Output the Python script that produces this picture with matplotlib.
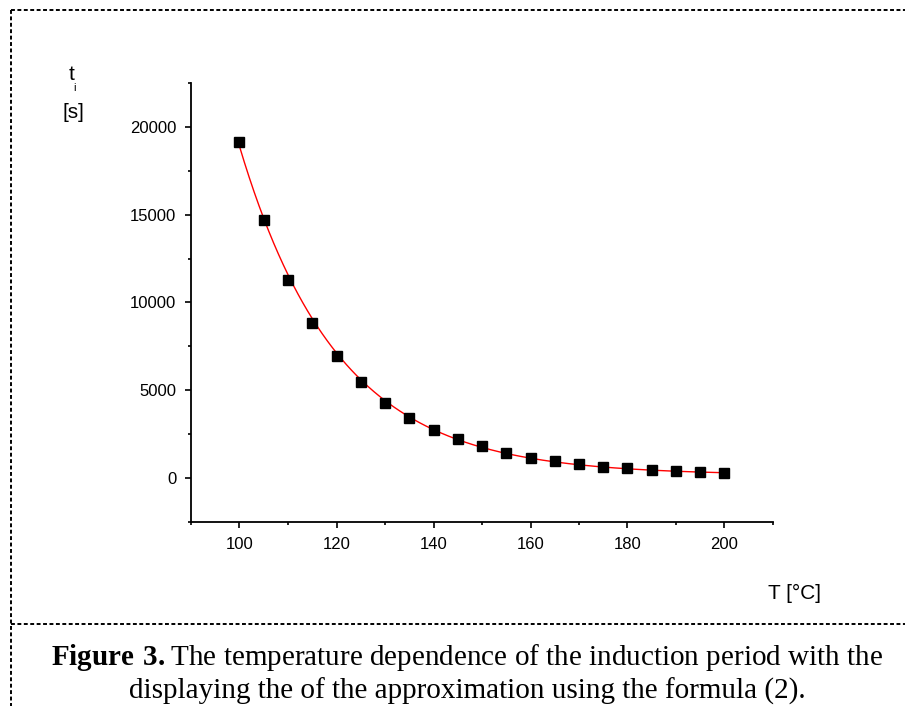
import numpy as np
import matplotlib
matplotlib.use("Agg")
import matplotlib.pyplot as plt
from matplotlib.ticker import MultipleLocator
from matplotlib.lines import Line2D

plt.rcParams["mathtext.fontset"] = "custom"
plt.rcParams["mathtext.rm"] = "Liberation Serif"
plt.rcParams["mathtext.bf"] = "Liberation Serif:bold"

# induction period vs temperature
temps = [100, 105, 110, 115, 120, 125, 130, 135, 140, 145, 150,
         155, 160, 165, 170, 175, 180, 185, 190, 195, 200]
t_ind = [19150, 14720, 11280, 8810, 6930, 5450, 4260, 3410, 2730, 2220, 1820,
         1440, 1160, 985, 815, 645, 550, 475, 400, 320, 285]

x = np.array(temps, dtype=float)
y = np.array(t_ind, dtype=float)

# exponential approximation y = c + A*exp(b*x), c found by a small search
best = None
for c in np.linspace(-500, 250, 301):
    b, lnA = np.polyfit(x, np.log(y - c), 1)
    sse = np.sum((c + np.exp(lnA + b * x) - y) ** 2)
    if best is None or sse < best[0]:
        best = (sse, c, b, lnA)
_, c0, b0, lnA0 = best
xf = np.linspace(x.min(), x.max(), 300)
yf = c0 + np.exp(lnA0 + b0 * xf)

W, H = 908, 706
fig = plt.figure(figsize=(W / 100, H / 100), dpi=100)
ax = fig.add_axes([191 / W, 1 - 522 / H, (773 - 191) / W, (522 - 83) / H])

ax.plot(xf, yf, color="red", lw=1.0, zorder=2)
ax.plot(x, y, ls="none", marker="s", ms=6.5, color="black", zorder=3)

ax.set_xlim(90, 210)
ax.set_ylim(-2500, 22500)
ax.xaxis.set_minor_locator(MultipleLocator(10))
ax.yaxis.set_minor_locator(MultipleLocator(2500))
ax.set_xticks([100, 120, 140, 160, 180, 200])
ax.set_yticks([0, 5000, 10000, 15000, 20000])
for s in ["top", "right"]:
    ax.spines[s].set_visible(False)
for s in ["left", "bottom"]:
    ax.spines[s].set_linewidth(1.3)
ax.tick_params(which="major", direction="out", length=4.5, width=1.2,
               labelsize=12, pad=6)
ax.tick_params(which="minor", direction="out", length=2.5, width=1.2)
for lab in ax.get_xticklabels() + ax.get_yticklabels():
    lab.set_fontfamily("Liberation Sans")

sans = dict(family="Liberation Sans", color="black")
fig.text(72 / W, 1 - 75 / H, "t", fontsize=15, ha="center", va="center", **sans)
fig.text(75 / W, 1 - 88 / H, "i", fontsize=8, ha="center", va="center", **sans)
fig.text(73 / W, 1 - 112 / H, "[s]", fontsize=15, ha="center", va="center", **sans)
fig.text(795 / W, 1 - 593 / H, "T [°C]", fontsize=15, ha="center", va="center", **sans)

# dotted frame of the figure box
dot = dict(color="black", lw=1.4, ls=(0, (2, 1.3)))
fig.add_artist(Line2D([11 / W, 905 / W], [1 - 10 / H, 1 - 10 / H], **dot))
fig.add_artist(Line2D([11 / W, 11 / W], [1 - 10 / H, 0], **dot))
fig.add_artist(Line2D([11 / W, 905 / W], [1 - 624 / H, 1 - 624 / H], **dot))

serif = dict(family="Liberation Serif", fontsize=21, color="black")
cx = 467 / W
fig.text(cx, 1 - 665 / H,
         r"$\mathbf{Figure\ 3.}$" + "The temperature dependence of the induction period with the",
         ha="center", va="baseline", **serif)
fig.text(cx, 1 - 699 / H,
         "displaying the of the approximation using the formula (2).",
         ha="center", va="baseline", **serif)

fig.savefig("out.png", dpi=100)
